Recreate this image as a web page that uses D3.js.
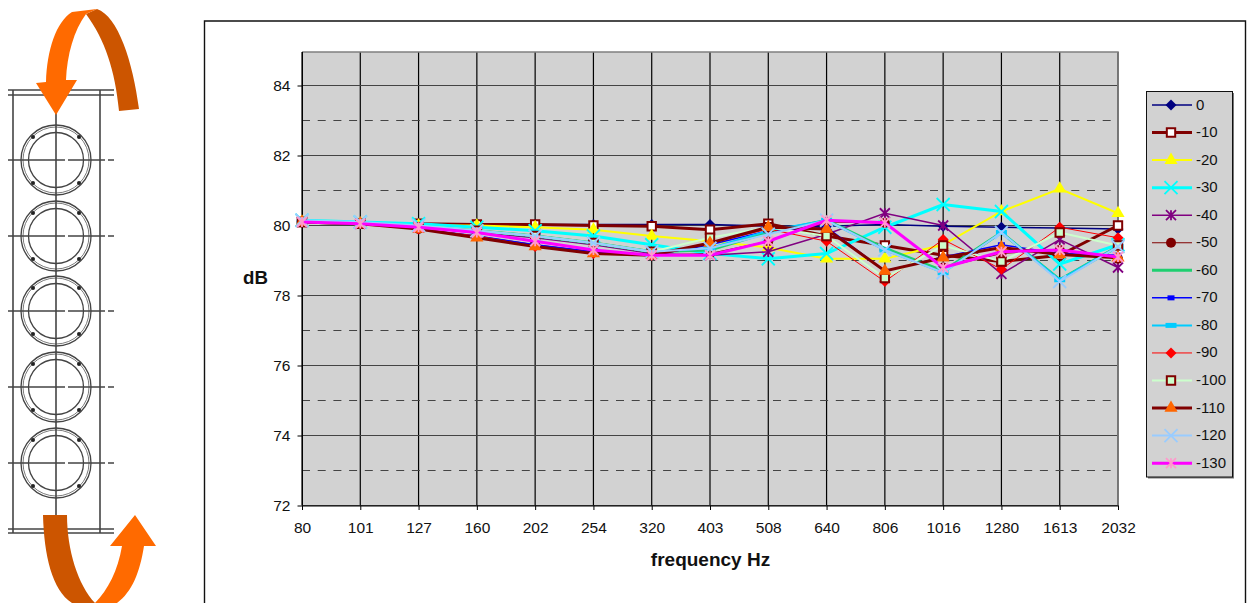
<!DOCTYPE html>
<html>
<head>
<meta charset="utf-8">
<script src="https://cdn.jsdelivr.net/npm/d3@7"></script>
<style>
body { margin: 0; background: #fff; }
svg { display: block; font-family: "Liberation Sans", Arial, sans-serif; }
</style>
</head>
<body>
<svg id="chart" width="1247" height="603"></svg>
<script>
var width = 1247;
var height = 603;

var frequencies = [80, 101, 127, 160, 202, 254, 320, 403, 508, 640, 806, 1016, 1280, 1613, 2032];
var angles = [0, -10, -20, -30, -40, -50, -60, -70, -80, -90, -100, -110, -120, -130];
var yTicks = [72, 74, 76, 78, 80, 82, 84];
var yMinorTicks = [73, 75, 77, 79, 81, 83];

var db0    = [80.10, 80.05, 80.05, 80.05, 80.03, 80.03, 80.03, 80.03, 79.98, 79.98, 80.03, 79.98, 79.95, 79.93, 79.90];
var db10   = [80.10, 80.05, 80.05, 80.03, 80.03, 80.00, 79.98, 79.88, 80.05, 79.70, 79.43, 79.15, 78.97, 79.15, 80.00];
var db20   = [80.10, 80.05, 80.00, 80.00, 79.95, 79.88, 79.70, 79.55, 79.37, 79.05, 79.05, 79.45, 80.40, 81.05, 80.35];
var db30   = [80.15, 80.10, 80.05, 79.95, 79.85, 79.70, 79.45, 79.20, 79.05, 79.20, 79.95, 80.60, 80.40, 78.90, 79.45];
var db40   = [80.10, 80.05, 79.95, 79.80, 79.65, 79.45, 79.20, 79.15, 79.25, 79.75, 80.35, 80.00, 78.62, 79.60, 78.80];
var db50   = [80.10, 80.05, 79.90, 79.70, 79.45, 79.25, 79.15, 79.20, 79.55, 80.10, 80.07, 78.80, 79.20, 79.30, 79.05];
var db60   = [80.10, 80.05, 79.95, 79.85, 79.70, 79.50, 79.25, 79.30, 79.80, 80.15, 79.35, 78.70, 79.80, 78.45, 79.40];
var db70   = [80.10, 80.05, 79.90, 79.70, 79.45, 79.25, 79.15, 79.45, 79.85, 79.95, 78.70, 79.10, 79.45, 79.20, 79.15];
var db80   = [80.10, 80.05, 79.95, 79.85, 79.70, 79.50, 79.25, 79.35, 79.85, 80.15, 79.30, 78.65, 79.80, 78.45, 79.40];
var db90   = [80.10, 80.05, 79.90, 79.70, 79.40, 79.20, 79.15, 79.50, 79.90, 79.55, 78.40, 79.60, 78.75, 79.95, 79.65];
var db100  = [80.10, 80.05, 79.95, 79.85, 79.70, 79.50, 79.25, 79.65, 79.95, 79.70, 78.50, 79.43, 78.97, 79.80, 79.43];
var db110  = [80.10, 80.05, 79.90, 79.65, 79.40, 79.20, 79.15, 79.50, 79.95, 79.90, 78.70, 79.08, 79.37, 79.17, 79.08];
var db120  = [80.15, 80.10, 80.00, 79.85, 79.70, 79.50, 79.25, 79.35, 79.75, 80.15, 79.30, 78.65, 79.80, 78.40, 79.40];
var db130  = [80.10, 80.05, 79.95, 79.80, 79.55, 79.30, 79.15, 79.15, 79.55, 80.15, 80.08, 78.80, 79.25, 79.30, 79.10];

var seriesValues = [db0, db10, db20, db30, db40, db50, db60, db70, db80, db90, db100, db110, db120, db130];

var lineColors = ["#000080", "#800000", "#ffff00", "#00ffff", "#800080", "#800000", "#1fcf70",
                  "#0000ff", "#00ccff", "#ff0000", "#ccffcc", "#800000", "#99ccff", "#ff00ff"];
var lineWidths = [1.5, 3, 2, 3, 1.5, 1, 3, 1.5, 2, 1, 2, 3, 2, 3];
var markerKinds = ["diamond", "square", "triangle", "x", "star", "circle", "none",
                   "dash", "dash", "diamond", "square", "triangle", "x", "star"];
var markerFills = ["#000080", "#ffffff", "#ffff00", "none", "none", "#800000", "none",
                   "#0000ff", "#00ccff", "#ff0000", "#ccffcc", "#ff6600", "none", "none"];
var markerStrokes = ["#000080", "#800000", "#ffff00", "#00ffff", "#800080", "#800000", "none",
                     "#0000ff", "#00ccff", "#ff0000", "#800000", "#ff6600", "#99ccff", "#ff99cc"];

var svg = d3.select('#chart');

// frame round the chart, cut off by the bottom of the page
svg.append('path')
  .attr('d', 'M204.5,' + height + 'V21H1245.5V' + height)
  .attr('fill', 'none')
  .attr('stroke', '#111')
  .attr('stroke-width', 1.4);

var x = d3.scalePoint()
  .domain(frequencies)
  .range([302, 1118]);

var y = d3.scaleLinear()
  .domain([72, 85])
  .range([505.5, 50.5]);

var plotTop = 52;
var plot = svg.append('g');

plot.append('rect')
  .attr('x', 302)
  .attr('y', plotTop)
  .attr('width', 816)
  .attr('height', y(72) - plotTop)
  .attr('fill', '#d2d2d2');

plot.selectAll('.vgrid')
  .data(frequencies)
  .enter()
  .append('line')
    .attr('x1', d => x(d))
    .attr('x2', d => x(d))
    .attr('y1', plotTop)
    .attr('y2', y(72))
    .attr('stroke', '#000')
    .attr('stroke-width', 1.2);

plot.selectAll('.hgrid')
  .data(yTicks)
  .enter()
  .append('line')
    .attr('x1', 302)
    .attr('x2', 1118)
    .attr('y1', d => y(d))
    .attr('y2', d => y(d))
    .attr('stroke', '#444')
    .attr('stroke-width', 1.2);

plot.selectAll('.hminor')
  .data(yMinorTicks)
  .enter()
  .append('line')
    .attr('x1', 302)
    .attr('x2', 1118)
    .attr('y1', d => y(d))
    .attr('y2', d => y(d))
    .attr('stroke', '#444')
    .attr('stroke-dasharray', '8,7.7');

// top and right edges of the plot are grey
plot.append('path')
  .attr('d', 'M302,' + plotTop + 'H1118V' + y(72))
  .attr('fill', 'none')
  .attr('stroke', '#808080')
  .attr('stroke-width', 1.5);

var xAxis = d3.axisBottom(x).tickSize(4.5).tickSizeOuter(0).tickPadding(12);
var yAxis = d3.axisLeft(y).tickValues(yTicks).tickFormat(d3.format('d')).tickSize(4.5).tickSizeOuter(0).tickPadding(7);

var xG = svg.append('g').attr('transform', 'translate(0,' + y(72) + ')').call(xAxis);
var yG = svg.append('g').attr('transform', 'translate(302,0)').call(yAxis);
[xG, yG].forEach(function(g){
  g.attr('font-family', null).attr('font-size', null);
  g.selectAll('text').attr('font-size', 15.5).attr('fill', '#111');
  g.selectAll('line').attr('stroke', '#000');
  g.select('.domain').attr('stroke', '#000');
});
yG.select('.domain').attr('d', 'M0.5,' + plotTop + 'V' + y(72));

svg.append('text')
  .attr('x', 710.5)
  .attr('y', 566)
  .attr('text-anchor', 'middle')
  .attr('font-size', 19)
  .attr('font-weight', 'bold')
  .attr('fill', '#111')
  .text('frequency Hz');

svg.append('text')
  .attr('x', 255.5)
  .attr('y', 284)
  .attr('text-anchor', 'middle')
  .attr('font-size', 18.7)
  .attr('font-weight', 'bold')
  .attr('fill', '#111')
  .text('dB');

function drawMarker(g, i, cx, cy) {
  var kind = markerKinds[i];
  var m = g.append('g').attr('transform', 'translate(' + cx + ',' + cy + ')');
  var fill = markerFills[i];
  var stroke = markerStrokes[i];
  if (kind === 'diamond') {
    m.append('path').attr('d', d3.symbol(d3.symbolSquare, 60)).attr('fill', fill).attr('transform', 'rotate(45)');
  } else if (kind === 'square') {
    m.append('path').attr('d', d3.symbol(d3.symbolSquare, 70)).attr('fill', fill)
      .attr('stroke', stroke).attr('stroke-width', 2);
  } else if (kind === 'triangle') {
    m.append('path').attr('d', d3.symbol(d3.symbolTriangle, 75)).attr('fill', fill);
  } else if (kind === 'circle') {
    m.append('circle').attr('r', 5).attr('fill', fill);
  } else if (kind === 'dash') {
    var w = i === 7 ? 7 : 11;
    m.append('rect').attr('x', -w / 2).attr('y', -2.5).attr('width', w).attr('height', 5).attr('fill', fill);
  } else if (kind === 'x' || kind === 'star') {
    var s = kind === 'x' ? 6.5 : 5;
    m.append('path')
      .attr('d', 'M' + -s + ',' + -s + 'L' + s + ',' + s + 'M' + -s + ',' + s + 'L' + s + ',' + -s +
                 (kind === 'star' ? 'M0,' + -s + 'V' + s : ''))
      .attr('fill', 'none')
      .attr('stroke', stroke)
      .attr('stroke-width', 1.8);
  }
}

var line = d3.line()
  .x((d, i) => x(frequencies[i]))
  .y(d => y(d));

seriesValues.forEach(function(values, i){
  var g = svg.append('g').attr('class', 'series');
  g.append('path')
    .attr('d', line(values))
    .attr('fill', 'none')
    .attr('stroke', lineColors[i])
    .attr('stroke-width', lineWidths[i]);
  values.forEach(function(v, j){
    drawMarker(g, i, x(frequencies[j]), y(v));
  });
});

// legend
var legendTop = 91;
var legendStep = 27.55;
svg.append('rect')
  .attr('x', 1148).attr('y', 93).attr('width', 86).attr('height', 385.5)
  .attr('fill', '#777');
svg.append('rect')
  .attr('x', 1146.5).attr('y', 91.5).attr('width', 86).attr('height', 385.5)
  .attr('fill', '#d2d2d2')
  .attr('stroke', '#111');

angles.forEach(function(a, i){
  var ly = legendTop + 14 + i * legendStep;
  var g = svg.append('g');
  g.append('line')
    .attr('x1', 1152).attr('x2', 1192)
    .attr('y1', ly).attr('y2', ly)
    .attr('stroke', lineColors[i])
    .attr('stroke-width', lineWidths[i]);
  drawMarker(g, i, 1171, ly);
  g.append('text')
    .attr('x', 1196)
    .attr('y', ly + 4.5)
    .attr('font-size', 15)
    .attr('fill', '#111')
    .text(a);
});

// rotor drawing on the left
var rotorCenters = [160, 236, 311, 387, 463];
var rotor = svg.append('g').attr('fill', 'none').attr('stroke', '#444').attr('stroke-width', 1.3);

[90, 95, 529, 533].forEach(function(ry){
  rotor.append('line').attr('x1', 8).attr('x2', 114).attr('y1', ry).attr('y2', ry).attr('stroke-width', 1.6);
});
[13, 100, 56].forEach(function(rx){
  rotor.append('line').attr('x1', rx).attr('x2', rx).attr('y1', 90).attr('y2', 533).attr('stroke-width', 1.6);
});

rotorCenters.forEach(function(cy){
  rotor.append('line').attr('x1', 8).attr('x2', 114).attr('y1', cy).attr('y2', cy)
    .attr('stroke-dasharray', '57,3,37,3,6,3');
  rotor.append('circle').attr('cx', 56).attr('cy', cy).attr('r', 35);
  rotor.append('circle').attr('cx', 56).attr('cy', cy).attr('r', 33).attr('stroke-width', 0.7);
  rotor.append('circle').attr('cx', 56).attr('cy', cy).attr('r', 27.5);
  [[-23, -23], [23, -23], [-23, 23], [23, 23]].forEach(function(b){
    rotor.append('circle').attr('cx', 56 + b[0]).attr('cy', cy + b[1]).attr('r', 2)
      .attr('fill', '#222').attr('stroke', 'none');
  });
});

// turning arrows
var arrows = svg.append('g').attr('stroke', 'none');
arrows.append('path')
  .attr('d', 'M86,14 L97,9 C118,16 133,62 139,109 L119,111 C115,70 105,40 86,14 Z')
  .attr('fill', '#cc5500');
arrows.append('path')
  .attr('d', 'M46,82 C47,50 56,22 72,12 L97,9 L86,14 C74,30 67,55 66,80 L77,80 L56,115 L36,83 Z')
  .attr('fill', '#ff6a00');
arrows.append('path')
  .attr('d', 'M43,515 L67,515 C67,550 78,585 95,603 L72,603 C52,590 44,555 43,515 Z')
  .attr('fill', '#cc5500');
arrows.append('path')
  .attr('d', 'M95,603 C108,590 118,570 122,546 L110,546 L135,515 L156,546 L144,546 C140,572 132,592 117,603 Z')
  .attr('fill', '#ff6a00');
</script>
</body>
</html>
